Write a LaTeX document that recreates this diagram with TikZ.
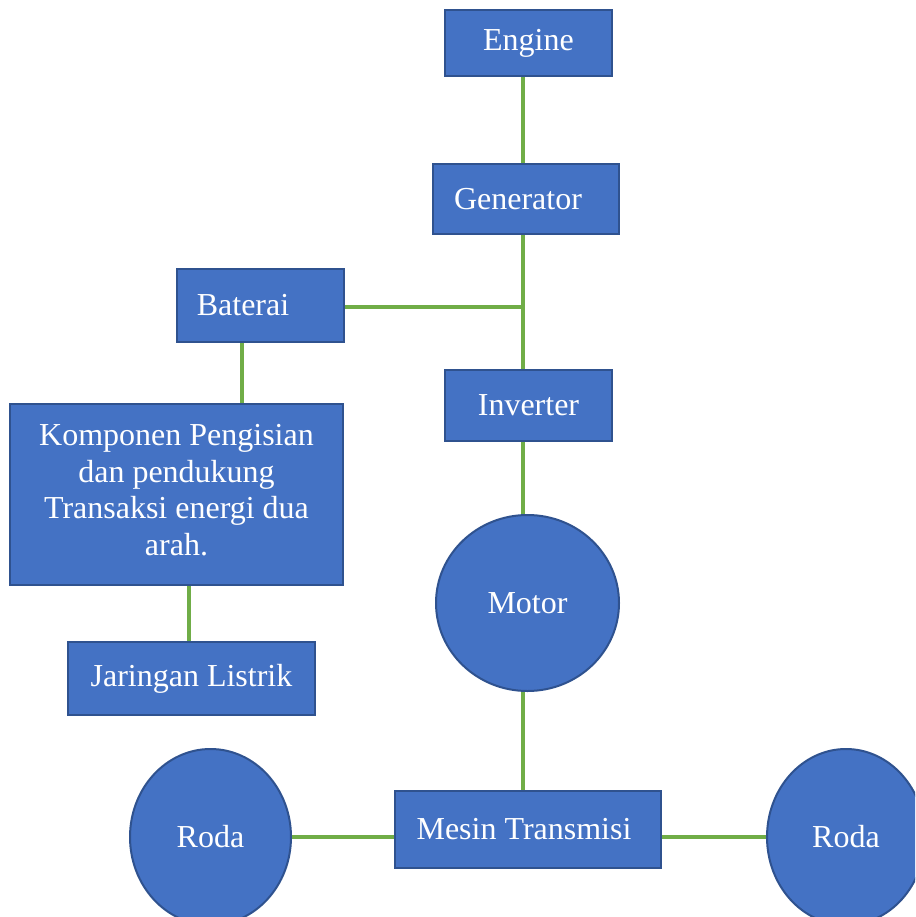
\documentclass[tikz,border=0pt]{standalone}
\usepackage{fontspec}
\setmainfont{Liberation Serif}
\usetikzlibrary{shapes.geometric,calc}
\definecolor{boxfill}{HTML}{4472C4}
\definecolor{boxdraw}{HTML}{2F528F}
\definecolor{linkgreen}{HTML}{70AD47}
\tikzset{
  blk/.style={draw=boxdraw, line width=2pt, fill=boxfill, text=white, inner sep=0pt, font=\fontsize{32}{36.5}\selectfont, align=center},
  rnd/.style={blk, ellipse},
  link/.style={draw=linkgreen, line width=3.6pt}
}
\begin{document}
\begin{tikzpicture}[x=1pt,y=-1pt]
\useasboundingbox (0,0) rectangle (915,917);
\clip (0,0) rectangle (915,917);
\fill[white] (0,0) rectangle (915,917);
\coordinate (sp) at (523,307);
\coordinate (bx) at (242,0);
\coordinate (kx) at (189,0);
% nodes
\node[blk, minimum width=167, minimum height=66] (eng) at (528.5,43) {};
\node[text=white, font=\fontsize{32}{36.5}\selectfont, inner sep=0pt] (engt) at (528.5,43) {Engine};
\node[blk, minimum width=186, minimum height=70] (gen) at (526,199) {Generator\hspace{16pt}};
\node[blk, minimum width=167, minimum height=73] (bat) at (260,305.5) {Baterai\hspace{34pt}};
\node[blk, minimum width=167, minimum height=71] (inv) at (528.5,405.5) {Inverter};
\node[blk, minimum width=333, minimum height=181] (kom) at (176.5,494.5) {};
\node[text=white, font=\fontsize{32}{36.5}\selectfont, inner sep=0pt, align=center] (komt) at (176.5,490) {Komponen Pengisian\\dan pendukung\\Transaksi energi dua\\arah.};
\node[blk, minimum width=247, minimum height=73] (jar) at (191.5,678.5) {Jaringan Listrik};
\node[rnd, minimum width=183, minimum height=176] (mot) at (527.5,603) {Motor};
\node[blk, minimum width=266, minimum height=77] (mes) at (528,829) {Mesin Transmisi\hspace{8pt}};
\node[rnd, minimum width=161, minimum height=176] (rl) at (210.5,837) {Roda};
\node[rnd, minimum width=158, minimum height=176] (rr) at (846,837) {Roda};
% connectors
\draw[link] (eng.south -| sp) -- (gen.north -| sp);
\draw[link] (gen.south -| sp) -- (inv.north -| sp);
\draw[link] (bat.east |- sp) -- (sp);
\draw[link] (bat.south -| bx) -- (kom.north -| bx);
\draw[link] (kom.south -| kx) -- (jar.north -| kx);
\draw[link] (inv.south -| sp) -- (mot.north -| sp);
\draw[link] (mot.south -| sp) -- (mes.north -| sp);
\draw[link] (rl.east) -- (rl.east -| mes.west);
\draw[link] (mes.east |- rr.west) -- (rr.west);
\end{tikzpicture}
\end{document}
